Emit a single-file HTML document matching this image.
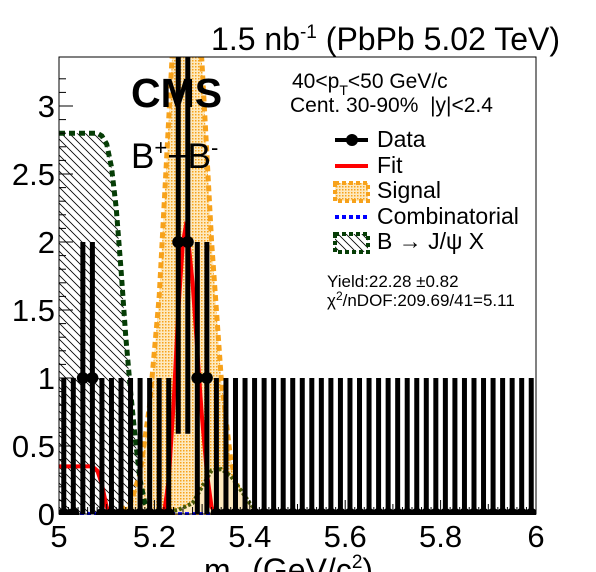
<!DOCTYPE html>
<html><head><meta charset="utf-8"><style>
body{margin:0;background:#fff;width:596px;height:572px;overflow:hidden}
svg{display:block;font-family:"Liberation Sans",sans-serif}
</style></head><body>
<svg id="c" width="596" height="572" viewBox="0 0 596 572">
<defs>
<pattern id="hatch" width="8" height="8" patternUnits="userSpaceOnUse">
<path d="M-2,-2 L10,10 M-2,6 L2,10 M6,-2 L10,2" stroke="#000" stroke-width="0.8"/>
</pattern>
<pattern id="dots" width="3" height="3" patternUnits="userSpaceOnUse">
<rect width="3" height="3" fill="#fde9bf"/><rect width="1.5" height="1.5" fill="#f7a21b"/>
</pattern>
<clipPath id="plotclip"><rect x="59" y="57" width="477" height="458"/></clipPath>
</defs>
<rect x="0" y="0" width="596" height="572" fill="#fff"/>
<g id="marks" clip-path="url(#plotclip)"></g>
<rect x="59" y="57" width="477" height="457" fill="none" stroke="#000" stroke-width="1"/>
<g id="axes"></g>
<text x="560" y="50" font-size="32" text-anchor="end">1.5 nb<tspan dy="-12" font-size="19">-1</tspan><tspan dy="12"> (PbPb 5.02 TeV)</tspan></text>
<text x="131" y="107" font-size="41" font-weight="bold">CMS</text>
<text x="131" y="168" font-size="35">B<tspan dy="-13" font-size="22">+</tspan><tspan dy="13">+B</tspan><tspan dy="-13" font-size="22">-</tspan></text>
<text x="292" y="88" font-size="21">40&lt;p<tspan dy="7" font-size="14">T</tspan><tspan dy="-7">&lt;50 GeV/c</tspan></text>
<text x="290" y="112" font-size="21">Cent. 30-90%&#160;&#160;|y|&lt;2.4</text>
<g font-size="23">
<g><line x1="335" y1="140" x2="368" y2="140" stroke="#000" stroke-width="4"/><circle cx="352" cy="140" r="6"/><text x="377" y="147">Data</text></g>
<g><line x1="335" y1="166" x2="368" y2="166" stroke="#f00" stroke-width="4"/><text x="377" y="173">Fit</text></g>
<g><rect x="335" y="183" width="33" height="18" fill="url(#dots)" stroke="#f7a21b" stroke-width="4" stroke-dasharray="4,3"/><text x="377" y="198">Signal</text></g>
<g><line x1="335" y1="217" x2="368" y2="217" stroke="#00f" stroke-width="4" stroke-dasharray="4,3"/><text x="377" y="224">Combinatorial</text></g>
<g><rect x="335" y="234" width="33" height="18" fill="url(#hatch)" stroke="#063d06" stroke-width="4" stroke-dasharray="4,3"/><text x="377" y="249">B → J/ψ X</text></g>
</g>
<text x="327" y="287" font-size="17">Yield:22.28 ±0.82</text>
<text x="327" y="306" font-size="17">χ<tspan dy="-6" font-size="12">2</tspan><tspan dy="6">/nDOF:209.69/41=5.11</tspan></text>
<text x="204" y="581" font-size="32">m<tspan dy="6" font-size="19">B</tspan><tspan dy="-6"> (GeV/c</tspan><tspan dy="-13" font-size="19">2</tspan><tspan dy="13">)</tspan></text>
</svg>
<script>
const counts=[0,0,1,1,0,0,0,0,0,0,0,0,2,2,1,1,0,0,0,0,0,0,0,0,0,0,0,0,0,0,0,0,0,0,0,0,0,0,0,0,0,0,0,0,0,0,0,0,0,0];
const errLow=[0,0,1,1,0,0,0,0,0,0,0,0,1.41,1.41,1,1,0,0,0,0,0,0,0,0,0,0,0,0,0,0,0,0,0,0,0,0,0,0,0,0,0,0,0,0,0,0,0,0,0,0];
const errHigh=[1,1,1,1,1,1,1,1,1,1,1,1,1.5,1.5,1,1,1,1,1,1,1,1,1,1,1,1,1,1,1,1,1,1,1,1,1,1,1,1,1,1,1,1,1,1,1,1,1,1,1,1];
const sigX=[5.11,5.13,5.15,5.17,5.19,5.21,5.23,5.25,5.265,5.28,5.30,5.32,5.34,5.36,5.38,5.40,5.42];
const sigY=[0,0.02,0.08,0.3,0.8,1.6,2.9,4.2,4.9,4.5,3.3,2.0,1.0,0.4,0.12,0.02,0];
const fitX=[5.0,5.07,5.08,5.09,5.10,5.11,5.22,5.23,5.24,5.25,5.26,5.265,5.27,5.28,5.29,5.30,5.31,5.32,5.33,6.0];
const fitY=[0.35,0.35,0.32,0.22,0.05,0,0,0.25,0.8,1.5,2.0,2.1,2.05,1.7,1.2,0.7,0.3,0.05,0,0];
const bkgX=[5.0,5.08,5.09,5.10,5.11,5.12,5.13,5.14,5.15,5.16,5.17,5.18,5.19,5.20];
const bkgY=[2.8,2.8,2.78,2.72,2.55,2.25,1.8,1.3,0.9,0.55,0.25,0.08,0.02,0];
const bumpX=[5.20,5.25,5.28,5.30,5.32,5.34,5.36,5.38,5.40,5.42];
const bumpY=[0,0.03,0.08,0.2,0.32,0.33,0.28,0.18,0.08,0];
const xTicks=[5,5.2,5.4,5.6,5.8,6];
const xTickLabels=["5","5.2","5.4","5.6","5.8","6"];
const yTicks=[0,0.5,1,1.5,2,2.5,3];
const yTickLabels=["0","0.5","1","1.5","2","2.5","3"];

const X=m=>59+(m-5)*477;
const Y=v=>514-v*136;
const NS="http://www.w3.org/2000/svg";
const marks=document.getElementById('marks'), axes=document.getElementById('axes');
function mk(tag,attrs,parent){const e=document.createElementNS(NS,tag);for(const k in attrs)e.setAttribute(k,attrs[k]);parent.appendChild(e);return e;}
function pts(xs,ys){return xs.map((x,i)=>X(x).toFixed(1)+','+Y(ys[i]).toFixed(1)).join(' ');}

let a=mk('polygon',{points:pts(bkgX,bkgY)+' '+X(bkgX[bkgX.length-1])+','+Y(0)+' '+X(bkgX[0])+','+Y(0),fill:'url(#hatch)'},marks);


let s=mk('polygon',{points:pts(sigX,sigY),fill:'url(#dots)',stroke:'#f7a21b','stroke-width':5,'stroke-dasharray':'6,4'},marks);


let g=mk('polyline',{points:pts(bkgX,bkgY),fill:'none',stroke:'#063d06','stroke-width':5,'stroke-dasharray':'6,4'},marks);


let b=mk('polyline',{points:pts(bumpX,bumpY),fill:'#fde9bf',stroke:'#4a5a06','stroke-width':4,'stroke-dasharray':'3,2'},marks);


let f=mk('polyline',{points:pts(fitX,fitY),fill:'none',stroke:'#f00','stroke-width':4},marks);


let cb=mk('line',{x1:X(5),y1:Y(0.003),x2:X(6),y2:Y(0.003),stroke:'#00f','stroke-width':3,'stroke-dasharray':'4,3'},marks);



counts.forEach((c,i)=>{
  const m=5.01+i*0.02;
  const bar=mk('line',{x1:X(m),x2:X(m),y1:Y(c-errLow[i]),y2:Y(c+errHigh[i]),stroke:'#000','stroke-width':5},marks);
  
  
  const p=mk('circle',{cx:X(m),cy:Y(c),r:6,fill:'#000'},marks);
  
  
});

for(let v=0;v<=3.3;v+=0.1){
  const major=Math.abs(v*2-Math.round(v*2))<1e-6;
  mk('line',{x1:59,x2:59+(major?14:7),y1:Y(v),y2:Y(v),stroke:'#000','stroke-width':1},axes);
}
for(let v=5;v<=6.0001;v+=0.02){
  const major=Math.abs(v*5-Math.round(v*5))<1e-6;
  const minor=Math.abs(v*10-Math.round(v*10))<1e-6;
  const l=major?14:(minor?10:7);
  mk('line',{x1:X(v),x2:X(v),y1:514,y2:514-l,stroke:'#000','stroke-width':1},axes);
}
yTicks.forEach((v,i)=>{
  const t=mk('text',{x:55,y:Y(v)+11,'font-size':31,'text-anchor':'end'},axes);
  t.textContent=yTickLabels[i];
  
  
});
xTicks.forEach((v,i)=>{
  const t=mk('text',{x:X(v),y:547,'font-size':31,'text-anchor':'middle'},axes);
  t.textContent=xTickLabels[i];
  
  
});
</script>
</body></html>
